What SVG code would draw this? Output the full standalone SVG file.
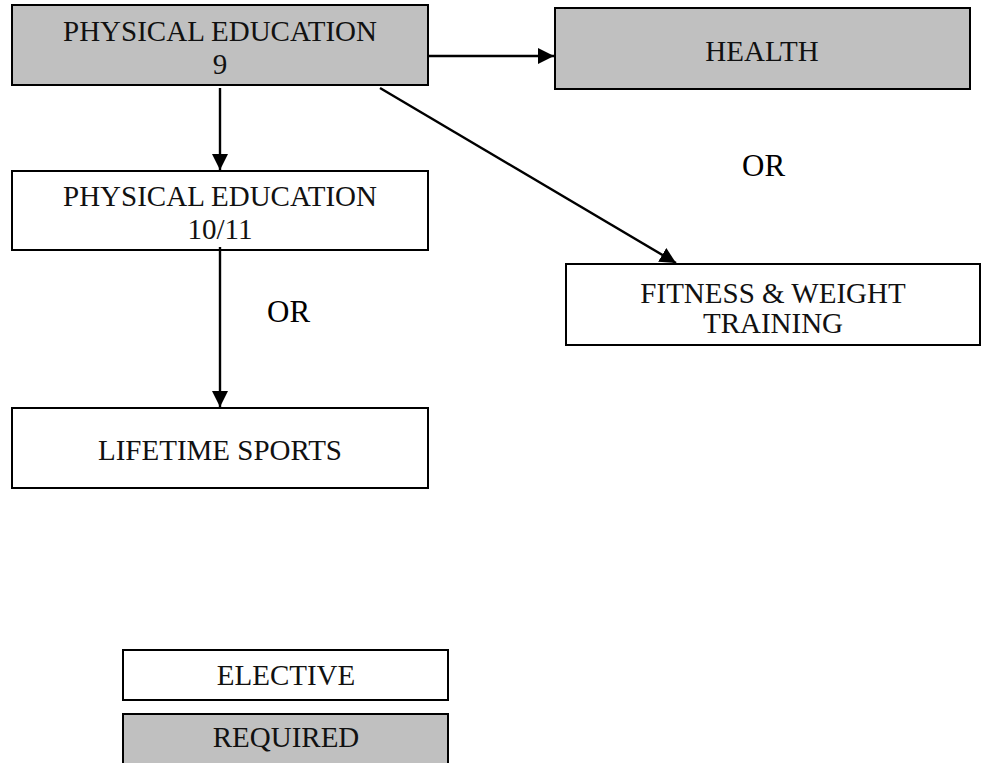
<svg xmlns="http://www.w3.org/2000/svg" width="982" height="763" viewBox="0 0 982 763">
  <style>
    .box { stroke: #000; stroke-width: 2; }
    .req { fill: #c0c0c0; }
    .elec { fill: #fff; }
    .lbl { font-family: "Liberation Serif", "Times New Roman", serif; font-size: 29px; fill: #111; text-anchor: middle; }
    .or { font-family: "Liberation Serif", "Times New Roman", serif; font-size: 31px; fill: #000; }
    .conn { stroke: #000; stroke-width: 2.4; fill: none; marker-end: url(#head); }
  </style>
  <defs>
    <marker id="head" markerUnits="userSpaceOnUse" markerWidth="17" markerHeight="17" refX="16" refY="8" orient="auto">
      <path d="M0,0 L16,8 L0,16 Z" fill="#000"/>
    </marker>
  </defs>

  <rect width="982" height="763" fill="#fff"/>

  <!-- course boxes -->
  <g id="pe9">
    <rect class="box req" x="12" y="5" width="416" height="80"/>
    <text class="lbl" x="220" y="41">PHYSICAL EDUCATION</text>
    <text class="lbl" x="220" y="74">9</text>
  </g>
  <g id="health">
    <rect class="box req" x="555" y="8" width="415" height="81"/>
    <text class="lbl" x="762" y="61">HEALTH</text>
  </g>
  <g id="pe1011">
    <rect class="box elec" x="12" y="171" width="416" height="79"/>
    <text class="lbl" x="220" y="206">PHYSICAL EDUCATION</text>
    <text class="lbl" x="220" y="239">10/11</text>
  </g>
  <g id="fitness">
    <rect class="box elec" x="566" y="264" width="414" height="81"/>
    <text class="lbl" x="773" y="303">FITNESS &amp; WEIGHT</text>
    <text class="lbl" x="773" y="333">TRAINING</text>
  </g>
  <g id="lifetime">
    <rect class="box elec" x="12" y="408" width="416" height="80"/>
    <text class="lbl" x="220" y="460">LIFETIME SPORTS</text>
  </g>

  <!-- legend -->
  <g id="legend-elective">
    <rect class="box elec" x="123" y="650" width="325" height="50"/>
    <text class="lbl" x="286" y="685">ELECTIVE</text>
  </g>
  <g id="legend-required">
    <rect class="box req" x="123" y="714" width="325" height="60"/>
    <text class="lbl" x="286" y="747">REQUIRED</text>
  </g>

  <!-- connectors -->
  <g id="connectors">
    <line class="conn" x1="428" y1="56" x2="554" y2="56"/>
    <line class="conn" x1="220" y1="88" x2="220" y2="170"/>
    <line class="conn" x1="220" y1="247" x2="220" y2="407"/>
    <line class="conn" x1="380" y1="88" x2="676" y2="263"/>
  </g>

  <text class="or" x="742" y="176">OR</text>
  <text class="or" x="267" y="322">OR</text>
</svg>
